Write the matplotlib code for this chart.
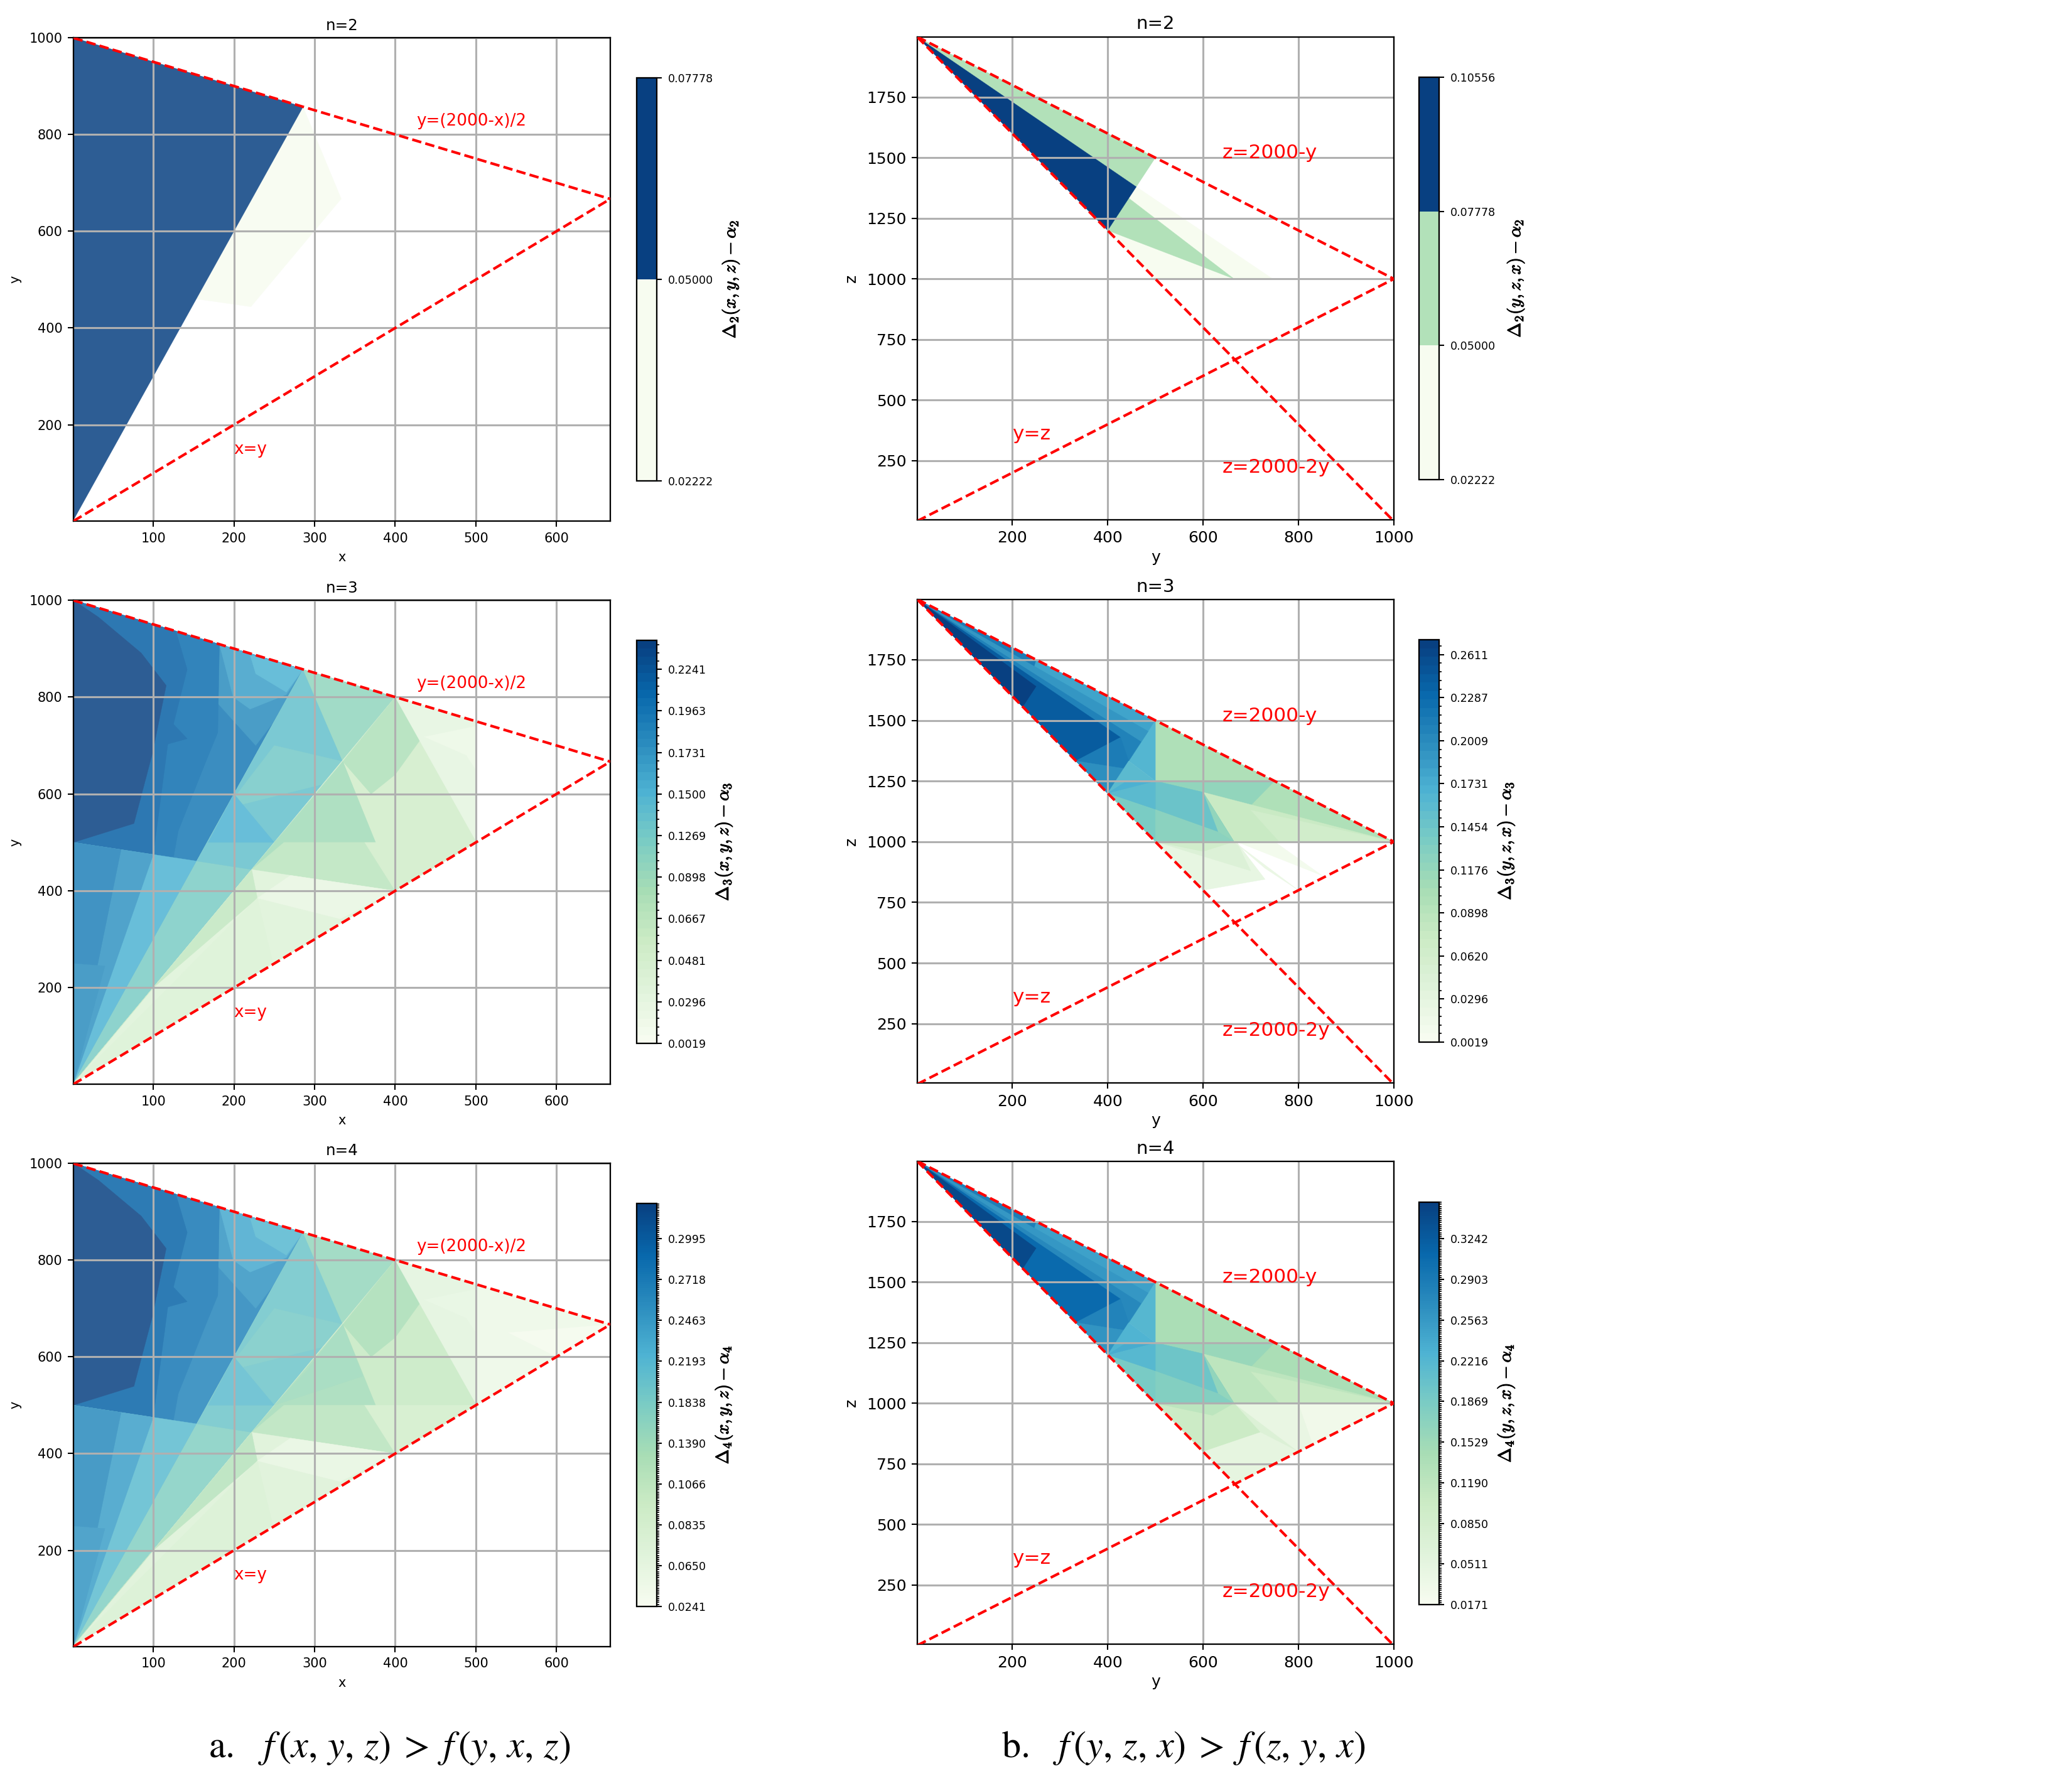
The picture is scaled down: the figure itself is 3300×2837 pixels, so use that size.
import numpy as np
import matplotlib
matplotlib.use("Agg")
import matplotlib.pyplot as plt
import matplotlib.patheffects as pe
from matplotlib.collections import PolyCollection
from matplotlib.colors import ListedColormap, Normalize
from matplotlib.cm import ScalarMappable

plt.rcParams['font.family'] = ['DejaVu Sans']
plt.rcParams['mathtext.fontset'] = 'cm'

W, H = 3300, 2837
TITLES = ["n=2", "n=3", "n=4"]

# colour-bar tick values
TICKS_A2 = [0.02222, 0.05000, 0.07778]
TICKS_B2 = [0.02222, 0.05000, 0.07778, 0.10556]
TICKS_A3 = [0.0019, 0.0296, 0.0481, 0.0667, 0.0898, 0.1269, 0.1500, 0.1731, 0.1963, 0.2241]
TICKS_B3 = [0.0019, 0.0296, 0.0620, 0.0898, 0.1176, 0.1454, 0.1731, 0.2009, 0.2287, 0.2611]
TICKS_A4 = [0.0241, 0.0650, 0.0835, 0.1066, 0.1390, 0.1838, 0.2193, 0.2463, 0.2718, 0.2995]
TICKS_B4 = [0.0171, 0.0511, 0.0850, 0.1190, 0.1529, 0.1869, 0.2216, 0.2563, 0.2903, 0.3242]
TOP_A3, TOP_B3, TOP_A4, TOP_B4 = 0.2440, 0.2760, 0.3270, 0.3590

# regions: outline vertices and the level of each region
A2_REGIONS = [
    [(285.7, 857), (333, 667), (221, 444), (154, 460)],
    [(1, 3), (1, 1000), (285.7, 857)],
]
B2_REGIONS = [
    [(460, 1380), (746, 1000), (665, 1000), (443, 1335)],
    [(400, 1200), (665, 1000), (500, 1000)],
    [(400, 1200), (443, 1335), (665, 1000)],
    [(1, 1998), (500, 1500), (460, 1380)],
    [(1, 1998), (460, 1380), (400, 1200)],
]

A_REGIONS = [
    [(1, 3), (1, 1000), (285.7, 857), (153.8, 461.5)],                 # blue base
    [(1, 1000), (285.7, 857), (250, 750), (227, 700), (142, 857), (128, 936)],
    [(1, 500), (1, 1000), (182, 909), (180, 727), (165, 666), (131, 524), (125, 469)],
    [(1, 500), (1, 1000), (128, 936), (142, 857), (125, 744), (142, 714), (118, 703), (100, 475)],
    [(1, 500), (76, 539), (99, 684), (116, 824), (85, 891), (32, 965), (1, 1000)],
    [(182, 909), (285.7, 857), (265, 805), (220, 775), (199, 800)],
    [(220, 887), (285.7, 857), (265, 810), (227, 848)],
    [(1, 3), (1, 500), (153.8, 461.5)],
    [(1, 3), (1, 500), (100, 475)],
    [(1, 3), (1, 500), (60, 485)],
    [(1, 3), (1, 250), (40, 245)],
    [(1, 3), (285.7, 857), (400, 800)],                                # teal base
    [(153.8, 461.5), (285.7, 857), (335, 667), (222, 444)],
    [(190, 570), (310, 620), (335, 667), (250, 700)],
    [(285.7, 857), (400, 800), (335, 667)],
    [(200, 600), (250, 500), (168, 500)],
    [(1, 3), (400, 800), (500, 750), (500, 500)],                      # green base
    [(400, 800), (500, 503), (400, 400), (335, 667)],
    [(335, 667), (400, 800), (432, 714), (400, 640), (370, 600)],
    [(222, 444), (335, 667), (400, 400)],
    [(250, 500), (360, 560), (335, 667), (290, 570)],
    [(222, 444), (262, 500), (362, 500), (400, 400)],
    [(362, 500), (500, 500), (400, 400)],
    [(400, 800), (500, 750), (500, 503)],
    [(436, 718), (488, 680), (500, 650), (500, 740)],
    [(1, 3), (222, 444), (400, 400)],
    [(1, 3), (222, 444), (229, 385), (100, 200)],
    [(1, 3), (229, 385), (248, 253), (125, 125)],
    [(229, 385), (332, 342), (400, 400), (270, 432)],
]
A3_VALUES = [0.190, 0.180, 0.203, 0.216, 0.244, 0.165, 0.152, 0.152, 0.172, 0.186, 0.180, 0.118, 0.135, 0.128, 0.100, 0.150,
             0.050, 0.054, 0.078, 0.085, 0.088, 0.070, 0.052, 0.030, 0.020, 0.040, 0.066, 0.042, 0.026]
A4_VALUES = [0.262, 0.250, 0.275, 0.292, 0.328, 0.232, 0.218, 0.212, 0.240, 0.258, 0.250, 0.170, 0.195, 0.185, 0.150, 0.210,
             0.090, 0.100, 0.130, 0.135, 0.142, 0.112, 0.088, 0.068, 0.064, 0.075, 0.115, 0.080, 0.062]
A4_EXTRA_REGIONS = [
    [(400, 800), (500, 750), (666.7, 666.7), (500, 500)],
    [(500, 750), (666.7, 666.7), (500, 500), (450, 650)],
    [(540, 650), (666.7, 666.7), (600, 600)],
]
A4_EXTRA_VALUES = [0.075, 0.050, 0.035]

B_REGIONS = [
    [(500, 1500), (1000, 1000), (665, 1000), (500, 1250)],             # green base
    [(500, 1250), (600, 1204), (700, 1150), (750, 1250)],
    [(600, 1204), (1000, 1000), (665, 1000)],
    [(700, 1130), (1000, 1000), (760, 1000)],
    [(400, 1200), (500, 1000), (665, 1000), (600, 1204), (500, 1250)],  # teal
    [(500, 1000), (500, 1134), (631, 1042), (665, 1000)],
    [(500, 1250), (600, 1204), (665, 1000), (631, 1042)],
    [(400, 1200), (500, 1250), (600, 1204), (631, 1042), (500, 1134)],
    [(400, 1200), (500, 1250), (500, 1134)],
    [(500, 1500), (500, 1250), (444, 1333), (470, 1412)],
    [(1, 1998), (500, 1500), (400, 1200)],                             # blue
    [(1, 1998), (250, 1750), (222, 1565)],
    [(1, 1998), (485, 1455), (400, 1200)],
    [(1, 1998), (470, 1412), (400, 1200)],
    [(1, 1998), (444, 1333), (400, 1200)],
    [(1, 1998), (427, 1430), (333, 1333)],
    [(1, 1998), (222, 1556), (250, 1640)],
    [(333, 1333), (427, 1430), (444, 1333), (400, 1200)],
    [(333, 1333), (400, 1200), (440, 1300)],
    [(400, 1200), (500, 1250), (444, 1333)],
    [(400, 1200), (500, 1250), (440, 1250)],
]
B3_VALUES = [0.100, 0.118, 0.075, 0.066, 0.136, 0.128, 0.118, 0.146, 0.160, 0.162, 0.182, 0.212, 0.190, 0.208, 0.226, 0.242, 0.270, 0.212, 0.195, 0.160, 0.170]
B4_VALUES = [0.140, 0.158, 0.118, 0.105, 0.188, 0.178, 0.165, 0.198, 0.218, 0.220, 0.248, 0.285, 0.258, 0.275, 0.292, 0.308, 0.346, 0.280, 0.262, 0.225, 0.235]
B3_EXTRA_REGIONS = [
    [(500, 1000), (600, 800), (730, 845), (670, 1000)],
    [(500, 1000), (670, 1000), (700, 880)],
    [(665, 1000), (800, 800), (730, 890)],
    [(670, 1000), (750, 1000), (850, 860)],
    [(500, 1000), (600, 960), (665, 1000)],
]
B3_EXTRA_VALUES = [0.028, 0.045, 0.020, 0.012, 0.062]
B4_EXTRA_REGIONS = [
    [(500, 1000), (1000, 1000), (666.7, 666.7)],
    [(500, 1000), (665, 1000), (720, 880), (600, 800)],
    [(600, 800), (666.7, 666.7), (800, 800), (720, 880)],
    [(665, 1000), (1000, 1000), (800, 800)],
    [(800, 1000), (1000, 1000), (830, 830)],
    [(500, 1000), (620, 950), (665, 1000)],
]
B4_EXTRA_VALUES = [0.070, 0.100, 0.050, 0.045, 0.030, 0.120]

def px_axes(fig, l, t, r, b):
    return fig.add_axes([l / W, 1 - b / H, (r - l) / W, (b - t) / H])

def pos_of(ticks, top, n_ticks_step):
    tick_pos = [i * n_ticks_step for i in range(len(ticks))]
    return np.array(tick_pos + [1.0]), np.array(list(ticks) + [top])

def panel(fig, rect, crect, regions, values, ticks, tick_pos, scale_v, scale_p, colours, alpha,
          minor, cbar_label, left, title, lpad):
    ax = px_axes(fig, *rect)
    rgb = np.array([matplotlib.colors.to_rgb(c) for c in colours])
    shown = ListedColormap(rgb * alpha + (1 - alpha))
    pos = np.array(values) if scale_v is None else np.interp(values, scale_v, scale_p)
    pc = PolyCollection(regions, array=pos, cmap=shown, norm=Normalize(0, 1),
                        edgecolors='face', linewidths=0.1, zorder=1)
    ax.add_collection(pc)
    fs_tick = 5.0 if left else 6.0
    ax.grid(True, color='#b0b0b0', lw=0.75)
    ax.tick_params(labelsize=fs_tick, length=2.2, width=0.5, pad=2)
    for s in ax.spines.values():
        s.set_linewidth(0.55)
    red = dict(color='red', ls=(0, (3.6, 1.6)), lw=1.0, zorder=3)
    if left:
        ax.set_xlim(1, 666.7); ax.set_ylim(1, 1000)
        ax.set_xticks([100, 200, 300, 400, 500, 600])
        ax.set_yticks([200, 400, 600, 800, 1000])
        xs = np.array([1, 666.7])
        ax.plot(xs, (2000 - xs) / 2, **red)
        ax.plot(xs, xs, **red)
        ax.text(426, 818, "y=(2000-x)/2", color='red', fontsize=6.3)
        ax.text(200, 140, "x=y", color='red', fontsize=6.3)
        ax.set_xlabel("x", fontsize=5, labelpad=2.5)
        ax.set_ylabel("y", fontsize=5, labelpad=3)
    else:
        ax.set_xlim(1, 1000); ax.set_ylim(6, 1998)
        ax.set_xticks([200, 400, 600, 800, 1000])
        ax.set_yticks([250, 500, 750, 1000, 1250, 1500, 1750])
        xs = np.array([1, 1000])
        ax.plot(xs, 2000 - xs, **red)
        ax.plot(xs, 2000 - 2 * xs, **red)
        ax.plot(xs, xs, **red)
        ax.text(640, 1497, "z=2000-y", color='red', fontsize=7.5)
        ax.text(200, 338, "y=z", color='red', fontsize=7.5)
        ax.text(640, 200, "z=2000-2y", color='red', fontsize=7.5)
        ax.set_xlabel("y", fontsize=6, labelpad=1.5)
        ax.set_ylabel("z", fontsize=6, labelpad=3)
    ax.set_title(title, fontsize=5.9 if left else 7.0, pad=3.0)

    cax = px_axes(fig, *crect)
    cmap = ListedColormap(colours)
    cb = fig.colorbar(ScalarMappable(Normalize(0, 1), cmap=cmap), cax=cax)
    cb.set_ticks(list(tick_pos))
    cb.set_ticklabels([("%.5f" if len(ticks) < 5 else "%.4f") % t for t in ticks])
    cb.ax.tick_params(labelsize=4.2, length=1.8, width=0.5, pad=2.6)
    cb.outline.set_linewidth(0.55)
    if minor:
        cb.ax.yaxis.set_ticks(np.arange(0, 1.0001, minor), minor=True)
        cb.ax.tick_params(which='minor', length=1.0, width=0.4)
    cb.dividers.set_visible(False)
    cb.set_label(cbar_label, fontsize=6.8, labelpad=lpad,
                 path_effects=[pe.withStroke(linewidth=0.25, foreground='black')])

GNBU = matplotlib.colormaps['GnBu']
def bands(n):
    return [GNBU(i / (n - 1)) for i in range(n)]

fig = plt.figure(figsize=(11, H / 300), dpi=300)

step_a3, step_b3, step_a4, step_b4 = 0.1031, 0.1070, 0.1014, 0.1010
sv, sp = {}, {}
for key, t, top, st in [('a3', TICKS_A3, TOP_A3, step_a3), ('b3', TICKS_B3, TOP_B3, step_b3),
                        ('a4', TICKS_A4, TOP_A4, step_a4), ('b4', TICKS_B4, TOP_B4, step_b4)]:
    sp[key], sv[key] = pos_of(t, top, st)

# row 1
panel(fig, (117, 60, 972, 830), (1014, 124, 1046, 766), A2_REGIONS, [0.25, 0.75], TICKS_A2, [0, .5, 1],
      None, None, [GNBU(0.0), GNBU(1.0)], 0.85, None, r"$\Delta_2(x,y,z)-\alpha_2$", True, TITLES[0], 2.5)
panel(fig, (1461, 59, 2220, 828), (2260, 123, 2292, 764), B2_REGIONS, [1/6, 1/6, 0.5, 0.5, 5/6], TICKS_B2,
      [0, 1/3, 2/3, 1], None, None, [GNBU(0.0), GNBU(0.34), GNBU(1.0)], 1.0, None,
      r"$\Delta_2(y,z,x)-\alpha_2$", False, TITLES[0], 3.5)
# row 2
panel(fig, (117, 956, 972, 1727), (1014, 1020, 1046, 1662), A_REGIONS, A3_VALUES, TICKS_A3, sp['a3'][:-1],
      sv['a3'], sp['a3'], bands(49), 0.85, step_a3 / 5, r"$\Delta_3(x,y,z)-\alpha_3$", True, TITLES[1], 2.5)
panel(fig, (1461, 955, 2220, 1725), (2260, 1019, 2292, 1660),
      B3_EXTRA_REGIONS + B_REGIONS, B3_EXTRA_VALUES + B3_VALUES, TICKS_B3, sp['b3'][:-1],
      sv['b3'], sp['b3'], bands(47), 1.0, step_b3 / 5, r"$\Delta_3(y,z,x)-\alpha_3$", False, TITLES[1], 2.5)
# row 3
panel(fig, (117, 1853, 972, 2623), (1014, 1917, 1046, 2559),
      A4_EXTRA_REGIONS + A_REGIONS, A4_EXTRA_VALUES + A4_VALUES, TICKS_A4, sp['a4'][:-1],
      sv['a4'], sp['a4'], bands(200), 0.85, step_a4 / 20, r"$\Delta_4(x,y,z)-\alpha_4$", True, TITLES[2], 2.5)
panel(fig, (1461, 1850, 2220, 2619), (2260, 1915, 2292, 2556),
      B4_EXTRA_REGIONS + B_REGIONS, B4_EXTRA_VALUES + B4_VALUES, TICKS_B4, sp['b4'][:-1],
      sv['b4'], sp['b4'], bands(200), 1.0, step_b4 / 20, r"$\Delta_4(y,z,x)-\alpha_4$", False, TITLES[2], 2.5)

fig.text(620 / W, 1 - 2785 / H, r"a.   $f\,(x,\,y,\,z)\;>\;f\,(y,\,x,\,z)$", fontsize=14.5, family='STIXGeneral',
         ha='center', va='center', math_fontfamily='stix')
fig.text(1885 / W, 1 - 2785 / H, r"b.   $f\,(y,\,z,\,x)\;>\;f\,(z,\,y,\,x)$", fontsize=14.5, family='STIXGeneral',
         ha='center', va='center', math_fontfamily='stix')

fig.savefig("out.png", dpi=300)
